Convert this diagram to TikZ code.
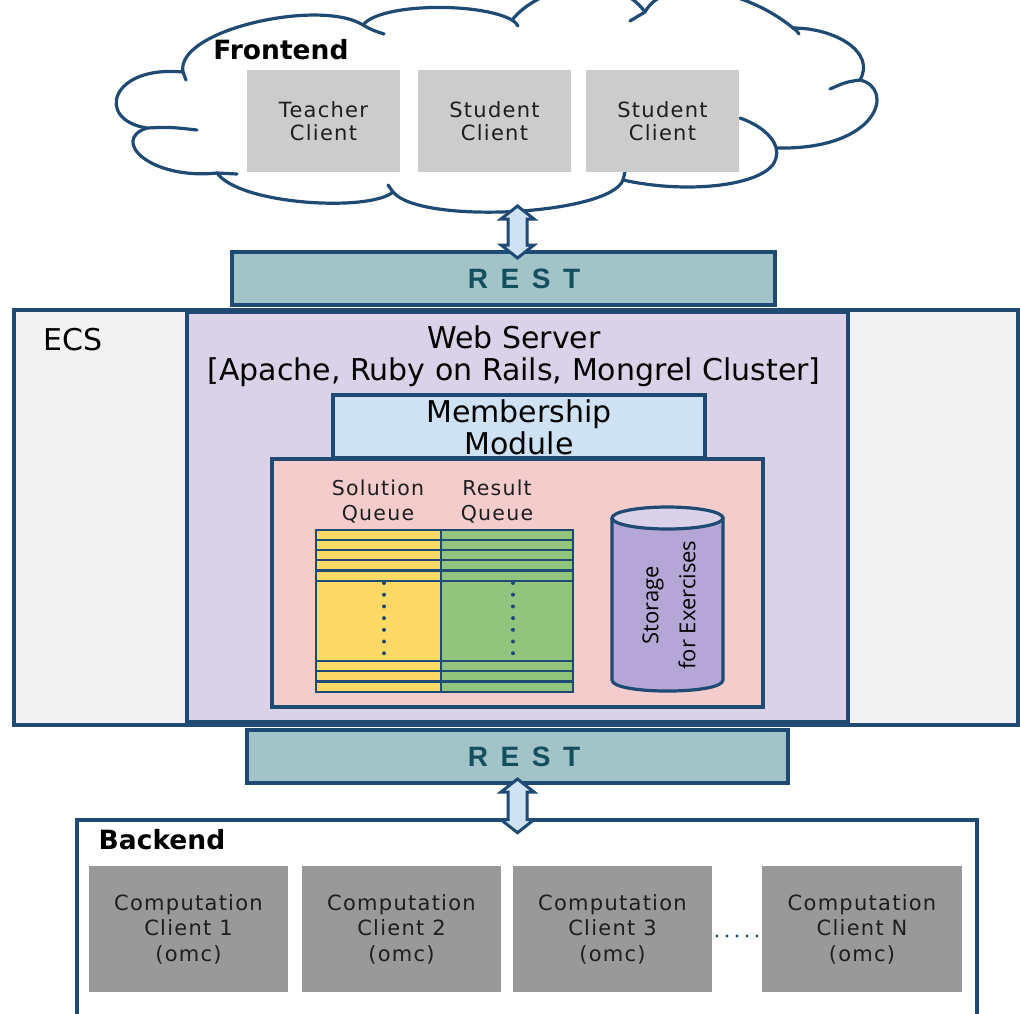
\documentclass[tikz,border=0pt]{standalone}
\usepackage{fontspec}
\usetikzlibrary{fit,calc}
\setmainfont{DejaVu Sans}
\newfontfamily\clientfont[LetterSpace=6]{DejaVu Sans}
\newfontfamily\restfont[LetterSpace=45]{Liberation Sans}
\newfontfamily\storefont{Open Sans}

\definecolor{navy}{HTML}{1F4A73}
\definecolor{restfill}{HTML}{A2C4C9}
\definecolor{resttext}{HTML}{134F5C}
\definecolor{ecsfill}{HTML}{F2F2F2}
\definecolor{wsfill}{HTML}{D9D2E9}
\definecolor{memfill}{HTML}{CFE2F3}
\definecolor{pinkfill}{HTML}{F4CCCC}
\definecolor{yellowq}{HTML}{FFD966}
\definecolor{greenq}{HTML}{93C47D}
\definecolor{cylbody}{HTML}{B4A7D6}
\definecolor{cyltop}{HTML}{D9D2E9}
\definecolor{clientgray}{HTML}{CCCCCC}
\definecolor{compgray}{HTML}{999999}
\definecolor{labelgray}{HTML}{1E1E1E}
\definecolor{arrowfill}{HTML}{CFE2F3}

\newcommand\twoway[2]{%
  \draw[dblarr] let \p1=(#1), \p2=(#2) in
    (\x1,\y1) -- (\x1+16.5pt,\y1-13pt) -- (\x1+9.5pt,\y1-13pt)
    -- (\x1+9.5pt,\y2+13pt) -- (\x1+16.5pt,\y2+13pt) -- (\x1,\y2)
    -- (\x1-16.5pt,\y2+13pt) -- (\x1-9.5pt,\y2+13pt)
    -- (\x1-9.5pt,\y1-13pt) -- (\x1-16.5pt,\y1-13pt) -- cycle;}

\tikzset{
  frame/.style={draw=navy, line width=3.2pt, inner sep=0pt, outer sep=0pt},
  cloudline/.style={draw=navy, line width=3.2pt, line cap=round},
  clientbox/.style={fill=clientgray, inner sep=0pt, outer sep=0pt},
  compbox/.style={fill=compgray, inner sep=0pt, outer sep=0pt},
  clienttext/.style={font=\clientfont\fontsize{21}{23}\selectfont, text=labelgray, align=center, inner sep=0pt},
  comptext/.style={font=\clientfont\fontsize{21}{25.5}\selectfont, text=labelgray, align=center, inner sep=0pt},
  queuetext/.style={font=\clientfont\fontsize{20.5}{25}\selectfont, text=labelgray, align=center, inner sep=0pt},
  resttext/.style={font=\restfont\bfseries\fontsize{28}{30}\selectfont, text=resttext, inner sep=0pt},
  titletext/.style={font=\fontsize{30}{32}\selectfont, align=center, inner sep=0pt},
  headtext/.style={font=\bfseries\fontsize{26.5}{30}\selectfont, inner sep=0pt},
  qline/.style={draw=navy, line width=2.8pt},
  qdots/.style={draw=navy, line width=4pt, line cap=round, dash pattern=on 0pt off 11.7pt},
  dotline/.style={draw=navy, line width=3.2pt, line cap=round, dash pattern=on 0pt off 10pt},
  dblarr/.style={draw=navy, line width=3pt, fill=arrowfill, line join=miter},
}

\begin{document}
\begin{tikzpicture}[x=1pt,y=-1pt]
\useasboundingbox (0,0) rectangle (1020,1013);
\clip (0,0) rectangle (1020,1013);
\fill[white] (0,0) rectangle (1020,1013);

% ---------- frontend cloud, one arc per puff ----------
\draw[cloudline] (186,80) -- (183,72) .. controls (175,30) and (320,-2) .. (363,25)
  .. controls (372,30) .. (384,34);
\draw[cloudline] (363,25) .. controls (380,3) and (480,2) .. (512,20)
  .. controls (515,22) .. (518,26);
\draw[cloudline] (512,20) .. controls (540,-15) and (615,-30) .. (645,12);
\draw[cloudline] (630,21) .. controls (637,17) .. (645,12)
  .. controls (665,-25) and (745,-12) .. (793,28) .. controls (796,30) .. (799,34);
\draw[cloudline] (793,28) .. controls (835,28) and (876,52) .. (860,80);
\draw[cloudline] (830,89) .. controls (846,82) .. (860,80)
  .. controls (895,88) and (880,150) .. (777,148);
\draw[cloudline] (740,118) .. controls (768,128) and (780,145) .. (776,158)
  .. controls (770,185) and (690,195) .. (623,180);
\draw[cloudline] (625,172) -- (623,180) .. controls (610,215) and (420,225) .. (393,192)
  .. controls (390,189) .. (388,185);
\draw[cloudline] (393,192) .. controls (370,212) and (240,205) .. (217,173);
\draw[cloudline] (237,174) .. controls (227,174) .. (217,173)
  .. controls (150,180) and (110,140) .. (147,128);
\draw[cloudline] (197,130) .. controls (170,127) .. (147,128)
  .. controls (95,120) and (110,65) .. (183,72);

\node[headtext] (frontlbl) at (281,50) {Frontend};

\node[clientbox, fit={(247,70)(400,172)}] (teacher) {};
\node[clienttext] (teacherlbl) at (teacher.center) {Teacher\\Client};
\node[clientbox, fit={(418,70)(571,172)}] (student1) {};
\node[clienttext] (student1lbl) at (student1.center) {Student\\Client};
\node[clientbox, fit={(586,70)(739,172)}] (student2) {};
\node[clienttext] (student2lbl) at (student2.center) {Student\\Client};

% ---------- upper REST layer ----------
\node[frame, fill=restfill, fit={(232,252)(775,305)}] (resttop) {};
\node[resttext] (resttoplbl) at (524,279) {REST};

% ---------- ECS ----------
\node[frame, fill=ecsfill, fit={(14,310)(1018,725)}] (ecs) {};
\node[titletext] (ecslbl) at (73,340) {ECS};
\node[frame, fill=wsfill, fit={(187,312)(848,722)}] (ws) {};
\node[titletext] (wslbl) at (514,356) {Web Server\\{}[Apache, Ruby on Rails, Mongrel Cluster]};
\node[frame, fill=memfill, fit={(333,395)(705,458)}] (member) {};
\node[titletext] (memberlbl) at (519,427) {Membership\\Module};
\node[frame, fill=pinkfill, fit={(272,459)(763,707)}] (core) {};

\node[queuetext] (sollbl) at (378,502) {Solution\\Queue};
\node[queuetext] (reslbl) at (497,502) {Result\\Queue};

\node[fill=yellowq, inner sep=0pt, outer sep=0pt, fit={(316,530)(441,692)}] (solq) {};
\node[fill=greenq, inner sep=0pt, outer sep=0pt, fit={(441,530)(573,692)}] (resq) {};
\foreach \y in {540,550,560,570.5,581,661,671,681.5}
  \draw[qline] (solq.west |- 0,\y) -- (resq.east |- 0,\y);
\draw[qline] (solq.north east) -- (solq.south east);
\draw[qline] (solq.north west) rectangle (resq.south east);
\draw[qdots] (384,583) -- (384,655);
\draw[qdots] (513,583) -- (513,655);

% storage cylinder
\fill[cylbody] (612,518) -- (612,680) .. controls (612,694.7) and (723,694.7) .. (723,680)
  -- (723,518) -- cycle;
\draw[navy, line width=3.2pt] (612,518) -- (612,680) .. controls (612,694.7) and (723,694.7) .. (723,680)
  -- (723,518);
\draw[navy, line width=3.2pt, fill=cyltop] (667.5,518) ellipse [x radius=55.5, y radius=11];
\node[font=\storefont\fontsize{22}{37}\selectfont, align=center, rotate=90, inner sep=0pt]
  (storelbl) at (669,605) {Storage\\for Exercises};

% ---------- lower REST layer ----------
\node[frame, fill=restfill, fit={(247,730)(788,783)}] (restbot) {};
\node[resttext] (restbotlbl) at (524,757) {REST};

% ---------- backend ----------
\node[frame, fill=white, fit={(77,820)(977,1040)}] (backend) {};
\node[headtext] (backlbl) at (162,840) {Backend};
\node[compbox, fit={(89,866)(288,992)}] (comp1) {};
\node[comptext] (comp1lbl) at (comp1.center) {Computation\\Client 1\\(omc)};
\node[compbox, fit={(302,866)(501,992)}] (comp2) {};
\node[comptext] (comp2lbl) at (comp2.center) {Computation\\Client 2\\(omc)};
\node[compbox, fit={(513,866)(712,992)}] (comp3) {};
\node[comptext] (comp3lbl) at (comp3.center) {Computation\\Client 3\\(omc)};
\node[compbox, fit={(762,866)(962,992)}] (compN) {};
\node[comptext] (compNlbl) at (compN.center) {Computation\\Client N\\(omc)};
\draw[dotline] ($(comp3.east)+(5,7)$) -- ($(compN.west)+(-3,7)$);

% ---------- two-way links ----------
\coordinate (cloudfoot) at (517.5,206);
\coordinate (restin) at ($(cloudfoot |- resttop.north)+(0,6)$);
\twoway{cloudfoot}{restin}
\coordinate (restout) at ($(cloudfoot |- restbot.south)+(0,-4)$);
\coordinate (backin) at ($(cloudfoot |- backend.north)+(0,12.7)$);
\twoway{restout}{backin}
\end{tikzpicture}
\end{document}
